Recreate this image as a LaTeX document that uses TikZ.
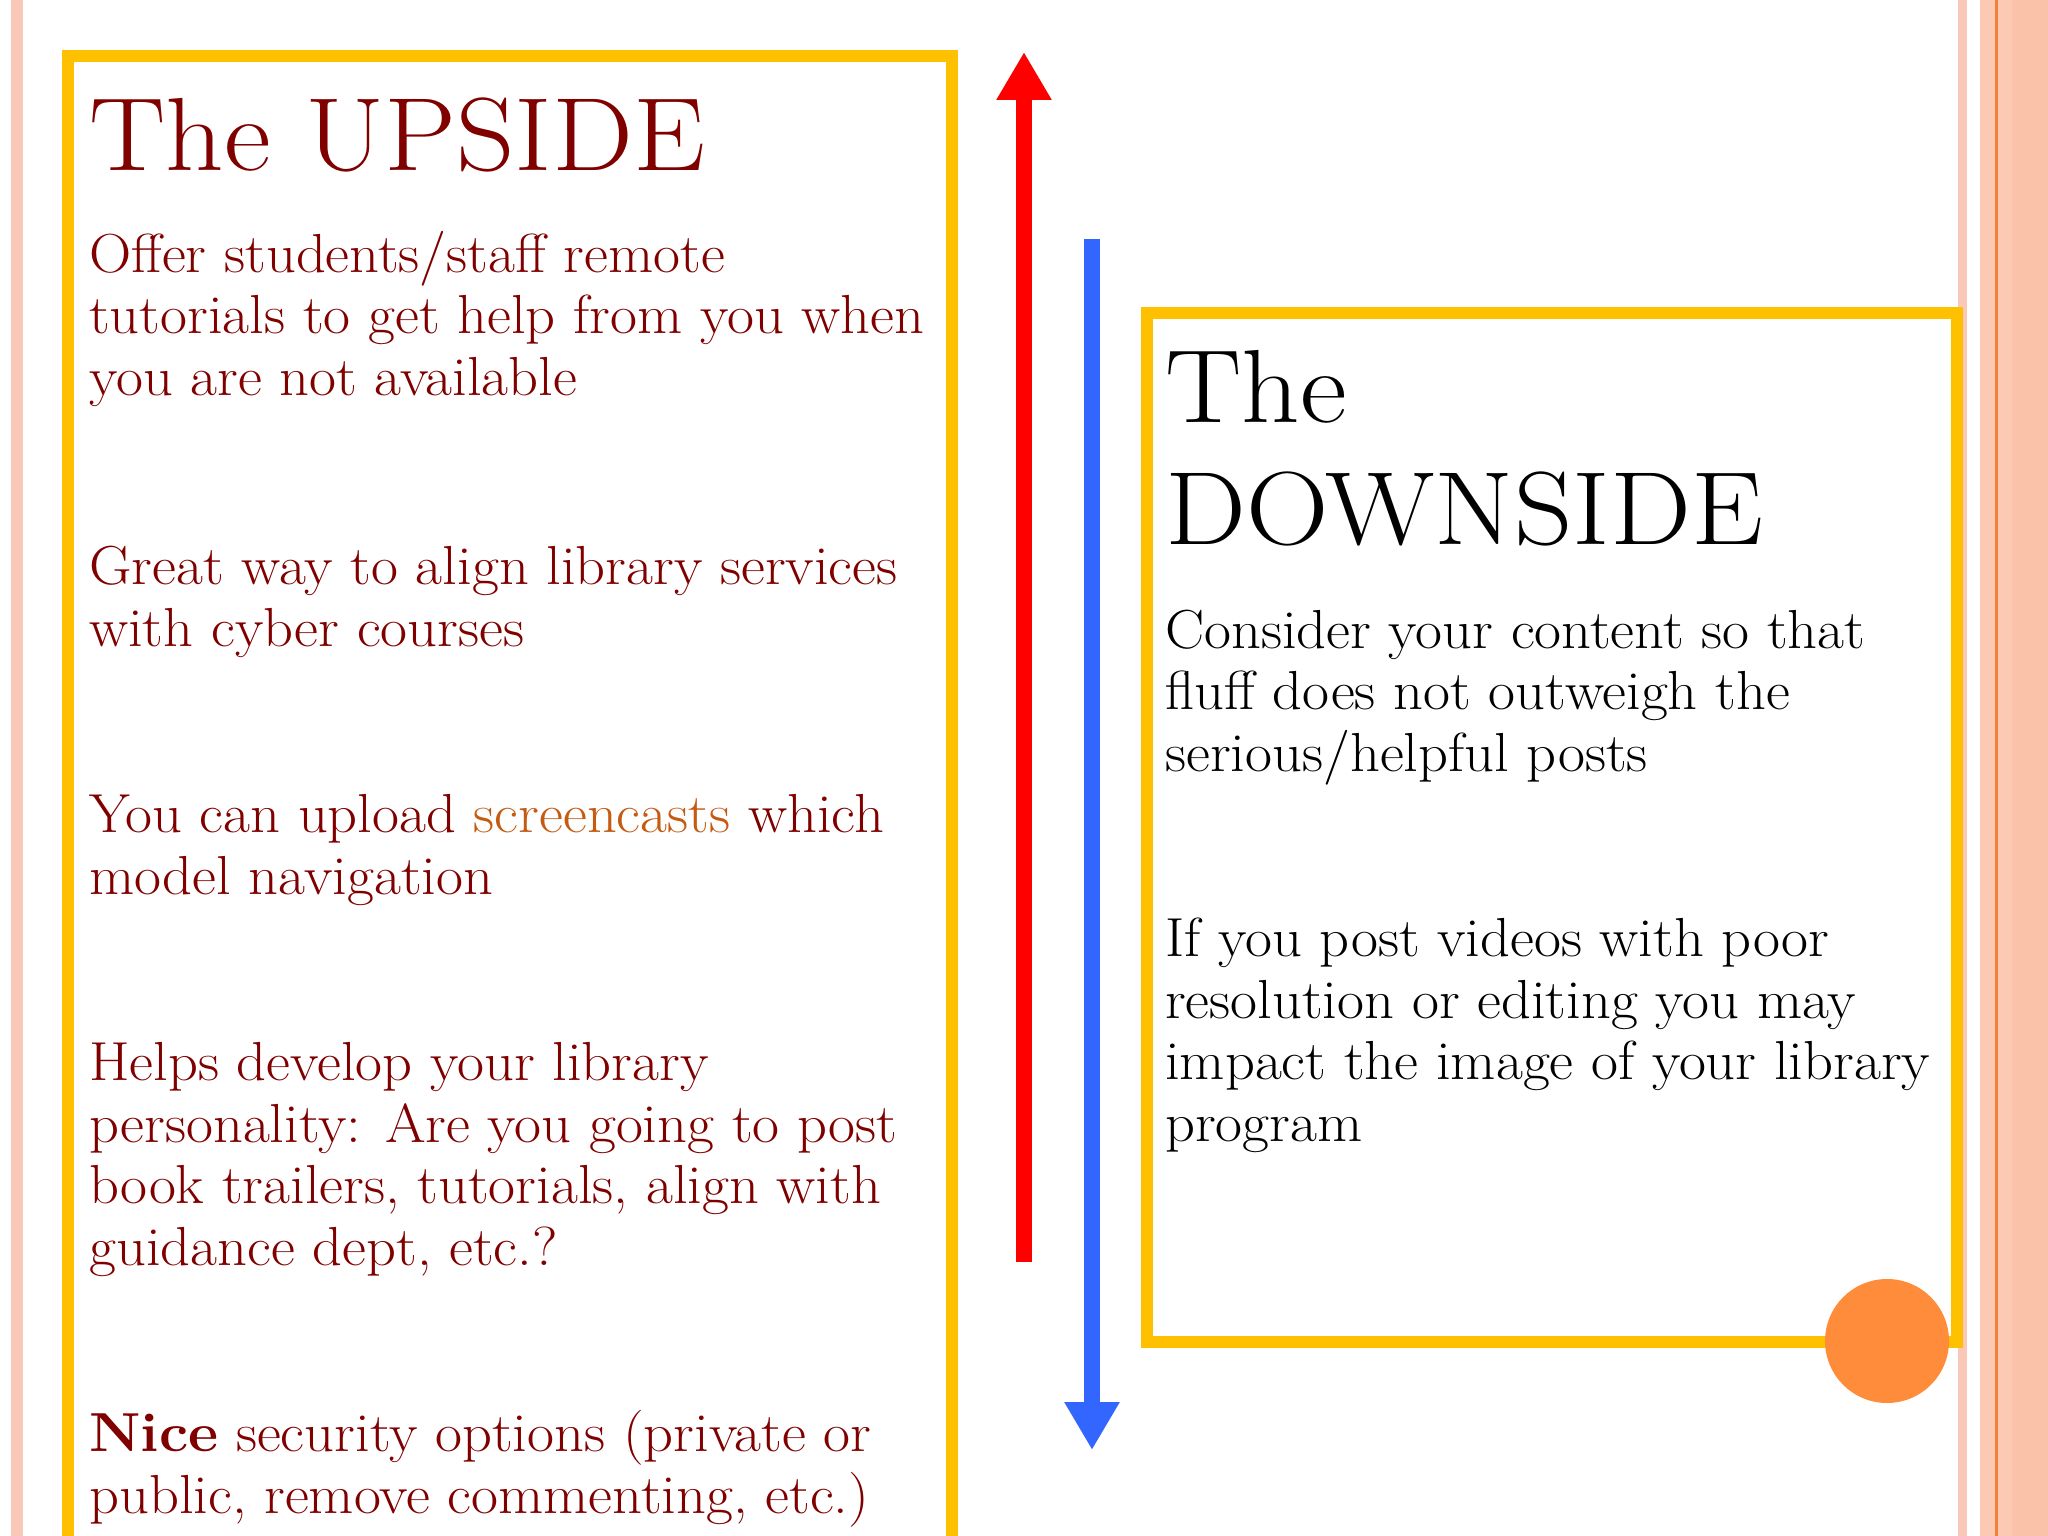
\documentclass[tikz,border=0pt]{standalone}
\usepackage{fontspec}
\definecolor{ybox}{HTML}{FFC000}
\definecolor{dred}{HTML}{800000}
\definecolor{scr}{HTML}{C55A11}
\definecolor{pinkA}{HTML}{F9C8B8}
\definecolor{pinkB}{HTML}{FCC9B2}
\definecolor{pinkC}{HTML}{FBC2AA}
\definecolor{orln}{HTML}{F4813A}
\definecolor{circ}{HTML}{FF8C3A}
\definecolor{redar}{HTML}{FF0000}
\definecolor{bluar}{HTML}{3366FF}
\usetikzlibrary{arrows.meta}
\begin{document}
\begin{tikzpicture}[x=1pt,y=-1pt,
  body/.style={anchor=base west,inner sep=0,align=left,font=\fontsize{55}{61.4}\selectfont,xscale=1.065,transform shape},
  title/.style={anchor=base west,inner sep=0,align=left,font=\fontsize{104}{122}\selectfont,xscale=1.1,transform shape},
  frame/.style={draw=ybox,line width=12pt}]
\useasboundingbox (0,0) rectangle (2048,1536);
\clip (0,0) rectangle (2048,1536);
\fill[white] (0,0) rectangle (2048,1536);
\fill[pinkA] (11,0) rectangle (23,1536);
\fill[pinkA] (1958,0) rectangle (1967,1536);
\fill[pinkB] (1980,0) rectangle (2048,1536);
\fill[pinkC] (2012,0) rectangle (2048,1536);
\fill[orln] (1995,0) rectangle (1998,1536);
\draw[frame] (68,1560) -- (68,56) -- (952,56) -- (952,1560);
\draw[frame] (1147,313) rectangle (1957,1342);
\node[circle,fill=circ,minimum size=124pt,inner sep=0] (dot) at (1887,1341) {};
\coordinate (r0) at (1024,1262); \coordinate (r1) at (1024,52);
\coordinate (b0) at (1092,239); \coordinate (b1) at (1092,1450);
\draw[redar,line width=16pt,-{Triangle[length=48pt,width=52pt]}] (r0) -- (r1);
\draw[bluar,line width=16pt,-{Triangle[length=48pt,width=52pt]}] (b0) -- (b1);
\node[title,text=dred] (t1) at (89,170) {The UPSIDE};
\node[body,text=dred] (u1) at (89,395) {Offer students/staff remote\\tutorials to get help from you when\\you are not available};
\node[body,text=dred] (u2) at (89,646) {Great way to align library services\\with cyber courses};
\node[body,text=dred] (u3) at (89,894) {You can upload \textcolor{scr}{screencasts} which\\model navigation};
\node[body,text=dred] (u4) at (89,1265) {Helps develop your library\\personality: Are you going to post\\book trailers, tutorials, align with\\guidance dept, etc.?};
\node[body,text=dred] (u5) at (89,1513) {\textbf{Nice} security options (private or\\public, remove commenting, etc.)};
\node[title] (t2) at (1165,544) {The\\DOWNSIDE};
\node[body] (d1) at (1165,771) {Consider your content so that\\fluff does not outweigh the\\serious/helpful posts};
\node[body] (d2) at (1165,1141) {If you post videos with poor\\resolution or editing you may\\impact the image of your library\\program};
\end{tikzpicture}
\end{document}
